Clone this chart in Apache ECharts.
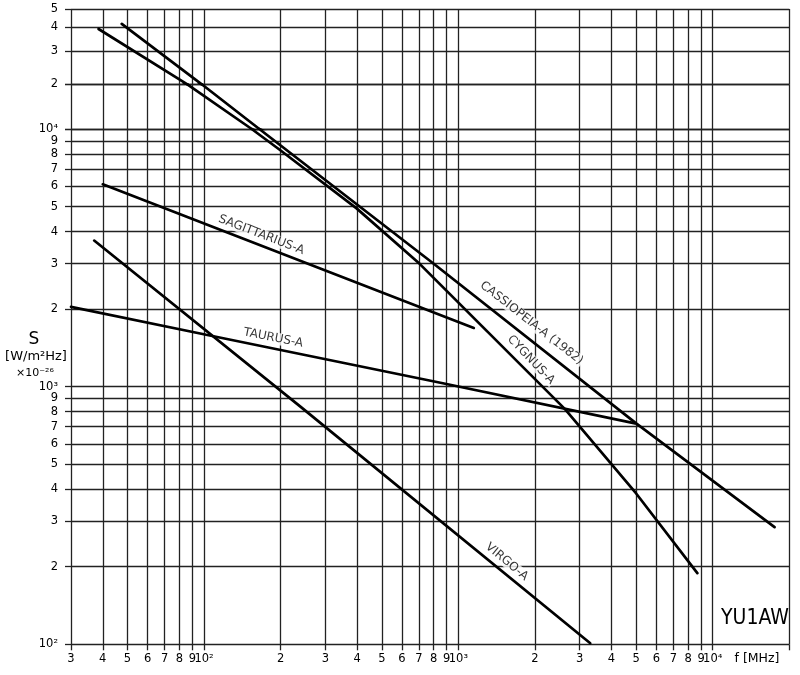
<!DOCTYPE html>
<html>
<head>
<meta charset="utf-8">
<script src="https://cdn.jsdelivr.net/npm/echarts@6/dist/echarts.min.js"></script>
<style>
html,body{margin:0;padding:0;background:#fff;}
#c{width:800px;height:675px;}
</style>
</head>
<body>
<div id="c"></div>
<script>
// ---------- tick values ----------
const xTicks = [30,40,50,60,70,80,90,100,200,300,400,500,600,700,800,900,1000,2000,3000,4000,5000,6000,7000,8000,9000,10000,20000];
const xLabelsMain = [30,40,50,60,70,80,90,100,200,300,400,500,600,700,800,900,1000,2000,3000,4000,5000,6000,7000,8000,9000];
const xLabelsExtra = [10000];
const yTicksLow = [100,200,300,400,500,600,700,800,900,1000,2000,3000,4000,5000,6000,7000,8000,9000,10000];
const yLabelsLow = [100,200,300,400,500,600,700,800,900,1000,2000,3000,4000,5000,6000,7000,8000,9000];
const yTicksMid = [10000,20000];
const yLabelsMid = [10000];
const yTicksTop = [20000,30000,40000,50000];
const yLabelsTop = [20000,30000,40000,50000];

// ---------- source spectra (f in MHz, S in 1e-26 W/m2Hz) ----------
const cygFreq = [38.5, 86, 154, 199, 398, 706, 2620, 5000, 8700];
const cygFlux = [39200, 20000, 10000, 8290, 4920, 2990, 820, 385, 189];
const casFreq = [47.5, 98, 165, 800, 5000, 17500];
const casFlux = [41700, 20000, 10000, 3000, 720, 285];
const sgrFreq = [40, 1150];
const sgrFlux = [6100, 1690];
const tauFreq = [30, 102, 850, 4950];
const tauFlux = [2040, 1590, 1035, 720];
const virFreq = [37, 238, 3300];
const virFlux = [3690, 840, 101];

const labelNames = ['SAGITTARIUS-A','TAURUS-A','CASSIOPEIA-A (1982)','CYGNUS-A','VIRGO-A'];

// ---------- helpers ----------
const FONT = "'DejaVu Sans', 'Liberation Sans', sans-serif";
const INK = '#000';
const GRID = '#222';
const SUP = {'0':'\u2070','1':'\u00b9','2':'\u00b2','3':'\u00b3','4':'\u2074','5':'\u2075','6':'\u2076','7':'\u2077','8':'\u2078','9':'\u2079','-':'\u207b'};
function fmt(v){
  const e = Math.floor(Math.log10(v) + 1e-9);
  const m = Math.round(v / Math.pow(10, e));
  if (m === 1) return '10' + String(e).split('').map(c => SUP[c]).join('');
  return String(m);
}
function pairs(fx, sy){ return fx.map((f,i) => [f, sy[i]]); }

// three stacked grids reproduce the chart paper's uneven top decade
const PLOT_BOTTOM = 30.7;
const gridDefs = [
  {top:129,  bottom:PLOT_BOTTOM, yMin:100,   yMax:10000, ticks:yTicksLow, labels:yLabelsLow},
  {top:84.3, height:44.7, yMin:10000, yMax:20000, ticks:yTicksMid, labels:yLabelsMid},
  {top:9,    height:75.3, yMin:20000, yMax:50000, ticks:yTicksTop, labels:yLabelsTop}
];

const grids = gridDefs.map(g => {
  const o = {left:71, right:10.7, top:g.top, containLabel:false, outerBoundsMode:'none'};
  if (g.bottom !== undefined) o.bottom = g.bottom; else o.height = g.height;
  return o;
});

const labelStyle = {color:INK, fontSize:11.5, fontFamily:FONT};

const xAxes = gridDefs.map((g,i) => {
  const ax = {
    type:'log', logBase:10, min:30, max:20000, gridIndex:i,
    axisLine:{show:false},
    axisTick:{show:i===0, length:6, inside:false, customValues:xTicks, lineStyle:{color:GRID, width:1.3}},
    axisLabel:Object.assign({show:false, customValues:xLabelsMain, formatter:fmt, margin:9,
               showMinLabel:true, showMaxLabel:true}, labelStyle),
    splitLine:{show:true, lineStyle:{color:GRID, width:1.3}},
    minorTick:{show:false}, minorSplitLine:{show:false}
  };
  if (i === 0) ax.axisLabel.show = true;
  if (i === 1) {
    // carries the 10^4 label, shifted down onto the main frequency axis
    ax.axisLabel.show = true;
    ax.axisLabel.customValues = xLabelsExtra;
    ax.offset = 675 - PLOT_BOTTOM - 129;
  }
  return ax;
});

const yAxes = gridDefs.map((g,i) => ({
  type:'log', logBase:10, min:g.yMin, max:g.yMax, gridIndex:i,
  axisLine:{show:false},
  axisTick:{show:true, length:6, inside:false, customValues:g.ticks, lineStyle:{color:GRID, width:1.3}},
  axisLabel:Object.assign({show:true, customValues:g.labels, formatter:fmt, margin:13,
             showMinLabel:true, showMaxLabel:true, align:'right'}, labelStyle),
  splitLine:{show:true, lineStyle:{color:GRID, width:1.3}},
  minorTick:{show:false}, minorSplitLine:{show:false}
}));

const sources = [
  {name:'Cygnus-A', d:pairs(cygFreq,cygFlux), grids:[0,1,2]},
  {name:'Cassiopeia-A', d:pairs(casFreq,casFlux), grids:[0,1,2]},
  {name:'Sagittarius-A', d:pairs(sgrFreq,sgrFlux), grids:[0]},
  {name:'Taurus-A', d:pairs(tauFreq,tauFlux), grids:[0]},
  {name:'Virgo-A', d:pairs(virFreq,virFlux), grids:[0]}
];

const series = [];
sources.forEach(s => {
  s.grids.forEach(gi => {
    series.push({
      name:s.name, type:'line', xAxisIndex:gi, yAxisIndex:gi,
      data:s.d, symbol:'none', clip:true, smooth:false,
      lineStyle:{color:INK, width:2.7, cap:'round'},
      z:5, silent:true
    });
  });
});

// curve annotations (anchor in data units, rotation in degrees)
const annots = [
  {f:168,  s:3880, rot:-21},
  {f:187,  s:1545, rot:-11},
  {f:1940, s:1765, rot:-38},
  {f:1930, s:1270, rot:-46},
  {f:1550, s:209,  rot:-40}
];
series.push({
  type:'scatter', xAxisIndex:0, yAxisIndex:0, symbolSize:0, silent:true, z:10,
  data: annots.map((a,i) => ({
    value:[a.f, a.s],
    label:{show:true, position:'inside', formatter:labelNames[i], rotate:a.rot,
           color:INK, fontSize:12, fontFamily:FONT, backgroundColor:'#fff', padding:[0,1]}
  }))
});

const option = {
  backgroundColor:'#fff',
  animation:false,
  grid:grids, xAxis:xAxes, yAxis:yAxes, series:series,
  graphic:[
    {type:'text', x:34, y:340, style:{text:'S', fontSize:17, fontFamily:FONT, fill:INK, align:'center', verticalAlign:'middle'}},
    {type:'text', x:36, y:357, style:{text:'[W/m\u00b2Hz]', fontSize:13, fontFamily:FONT, fill:INK, align:'center', verticalAlign:'middle'}},
    {type:'text', x:35, y:373, style:{text:'\u00d710\u207b\u00b2\u2076', fontSize:11, fontFamily:FONT, fill:INK, align:'center', verticalAlign:'middle'}},
    {type:'text', x:757, y:659, style:{text:'f [MHz]', fontSize:12.5, fontFamily:FONT, fill:INK, align:'center', verticalAlign:'middle'}},
    {type:'text', x:755, y:619, style:{text:'YU1AW', fontSize:21, fontFamily:"'DejaVu Sans Condensed', 'Liberation Sans Narrow', "+FONT, fill:INK, align:'center', verticalAlign:'middle'}}
  ]
};

const chart = echarts.init(document.getElementById('c'), null, {renderer:'canvas'});
chart.setOption(option);
</script>
</body>
</html>
